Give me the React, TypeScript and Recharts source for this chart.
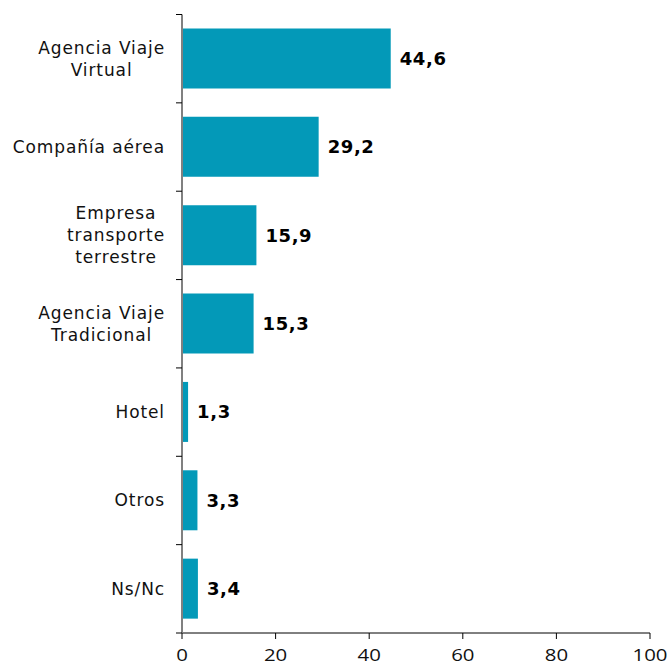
import React from "react";
import { BarChart, Bar, XAxis, YAxis, LabelList } from "recharts";

const categories = [
  "Agencia Viaje\nVirtual",
  "Compañía aérea",
  "Empresa\ntransporte\nterrestre",
  "Agencia Viaje\nTradicional",
  "Hotel",
  "Otros",
  "Ns/Nc",
];
const values = [44.6, 29.2, 15.9, 15.3, 1.3, 3.3, 3.4];
const xTicks = [0, 20, 40, 60, 80, 100];

const data = categories.map((c, i) => ({ name: c, value: values[i] }));

const W = 669;
const H = 667;
const M = { top: 14.5, right: 19, bottom: 0, left: 0 };
const X_AXIS_H = 34;
const Y_AXIS_W = 182;
const BAND = (H - M.top - M.bottom - X_AXIS_H) / categories.length;
const CAT_FONT = "17px 'DejaVu Sans'";
const CAT_LS = 0.9;
const TICK_MARGIN = 17;

let ctx: CanvasRenderingContext2D | null = null;
function measure(t: string): number {
  if (!ctx) {
    const c = document.createElement("canvas");
    ctx = c.getContext("2d");
  }
  if (!ctx) return t.length * 9;
  ctx.font = CAT_FONT;
  return ctx.measureText(t).width + CAT_LS * t.length;
}

const CatTick = (props: any) => {
  const { x, y, payload, index } = props;
  const lines = String(payload.value).split("\n");
  const maxW = Math.max(...lines.map(measure));
  const cx = x - maxW / 2;
  const axisX = x + TICK_MARGIN;
  const L = 22;
  const first = y - ((lines.length - 1) * L) / 2 + 6;
  return (
    <g>
      <line x1={axisX - 6} x2={axisX} y1={y - BAND / 2} y2={y - BAND / 2} stroke="#000" strokeWidth={1} />
      {index === categories.length - 1 && (
        <line x1={axisX - 6} x2={axisX} y1={y + BAND / 2} y2={y + BAND / 2} stroke="#000" strokeWidth={1} />
      )}
      <text
        textAnchor="middle"
        fill="#111"
        style={{ font: CAT_FONT, letterSpacing: CAT_LS }}
      >
        {lines.map((l, i) => (
          <tspan key={i} x={cx} y={first + i * L}>
            {l}
          </tspan>
        ))}
      </text>
    </g>
  );
};

const XTick = (props: any) => {
  const { x, y, payload } = props;
  return (
    <text
      transform={`translate(${x},${y}) scale(1.2,1)`}
      textAnchor="middle"
      dy="0.71em"
      fill="#111"
      style={{ fontSize: 17, fontFamily: "'Open Sans'" }}
    >
      {payload.value}
    </text>
  );
};

const fmt = (v: any) => Number(v).toFixed(1).replace(".", ",");

export default function App() {
  return (
    <div style={{ position: "absolute", left: 0, top: 0, background: "#fff" }}>
      <BarChart width={W} height={H} data={data} layout="vertical" margin={M}>
        <XAxis
          type="number"
          domain={[0, 100]}
          ticks={xTicks}
          height={X_AXIS_H}
          stroke="#000"
          tickSize={6}
          tickMargin={10}
          tick={<XTick />}
          interval={0}
        />
        <YAxis
          type="category"
          dataKey="name"
          width={Y_AXIS_W}
          stroke="#808080"
          axisLine={{ stroke: "#808080", strokeWidth: 2 }}
          tickLine={false}
          tickSize={0}
          tickMargin={TICK_MARGIN}
          tick={<CatTick />}
          interval={0}
        />
        <Bar dataKey="value" fill="#0399B8" barSize={60} isAnimationActive={false}>
          <LabelList
            dataKey="value"
            position="right"
            offset={9}
            formatter={fmt}
            style={{ font: "bold 18px 'DejaVu Sans'", letterSpacing: 0.6, fill: "#000" }}
          />
        </Bar>
      </BarChart>
    </div>
  );
}
